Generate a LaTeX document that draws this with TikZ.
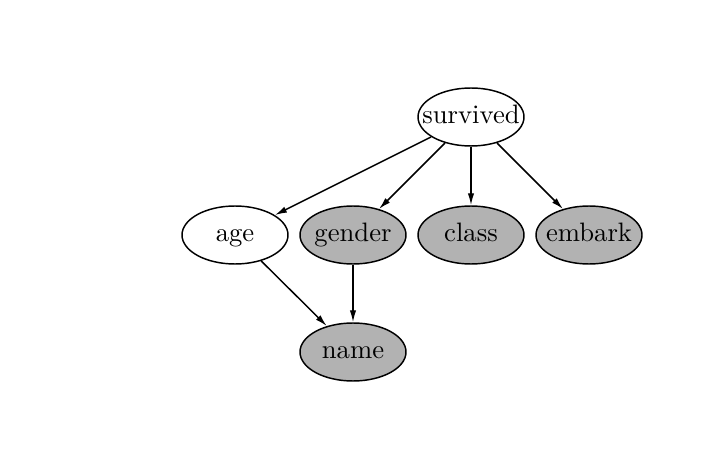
\documentclass[tikz,border=0pt]{standalone}
\usepackage{tikz}
\usetikzlibrary{shapes.geometric}
\usetikzlibrary{arrows.meta}
\begin{document}
\begin{tikzpicture}[x=0.375pt,y=-0.375pt,
  var/.style={ellipse,draw,line width=0.55pt,minimum width=39.75pt,minimum height=21.75pt,inner sep=0pt,
    text height=6.9pt,text depth=1.9pt,
    execute at begin node={\hbox to 0pt\bgroup\hss},execute at end node={\hss\egroup}},
  obs/.style={var,fill=black!30},
  edge/.style={-{Latex[length=4.5pt,width=2.4pt]},line width=0.55pt}]
\useasboundingbox (0,0) rectangle (706,470);
\node[var] (survived) at (471,117) {survived};
\node[var] (age) at (235,235) {age};
\node[obs] (gender) at (353,235) {gender};
\node[obs] (class) at (471,235) {class};
\node[obs] (embark) at (589,235) {embark};
\node[obs] (name) at (353,352) {name};
\draw[edge] (survived) -- (age);
\draw[edge] (survived) -- (gender);
\draw[edge] (survived) -- (class);
\draw[edge] (survived) -- (embark);
\draw[edge] (age) -- (name);
\draw[edge] (gender) -- (name);
\end{tikzpicture}
\end{document}
